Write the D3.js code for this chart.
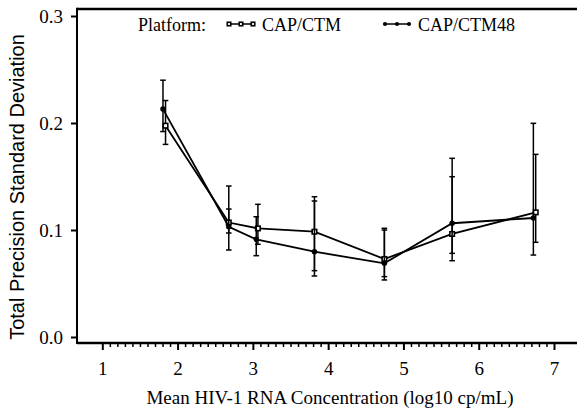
<!DOCTYPE html>
<html>
<head>
<meta charset="utf-8">
<script src="https://cdn.jsdelivr.net/npm/d3@7/dist/d3.min.js"></script>
<style>
  html, body { margin: 0; padding: 0; background: #fff; }
  svg { display: block; }
</style>
</head>
<body>
<svg id="chart" width="577" height="409"></svg>
<script>
// Precision data: total SD by mean concentration, with confidence limits
const seriesNames = ["CAP/CTM", "CAP/CTM48"];

const xCTM  = [1.84, 2.68, 3.067, 3.818, 4.747, 5.647, 6.757];
const sdCTM = [0.1975, 0.107, 0.1015, 0.0984, 0.0729, 0.0963, 0.1165];
const loCTM = [0.180, 0.0972, 0.0866, 0.062, 0.0564, 0.0713, 0.0885];
const hiCTM = [0.221, 0.1196, 0.124, 0.1311, 0.1016, 0.1498, 0.1707];

const xCTM48  = [1.806, 2.68, 3.045, 3.818, 4.747, 5.647, 6.726];
const sdCTM48 = [0.213, 0.103, 0.0913, 0.0797, 0.0689, 0.1063, 0.1112];
const loCTM48 = [0.192, 0.0813, 0.0760, 0.0570, 0.0533, 0.0782, 0.0766];
const hiCTM48 = [0.240, 0.1411, 0.1124, 0.1271, 0.1000, 0.1670, 0.1997];

const xTicks = [1, 2, 3, 4, 5, 6, 7];
const yTicks = [0.0, 0.1, 0.2, 0.3];

const serif = "'Liberation Serif', 'Times New Roman', serif";
const sans = "'Liberation Sans', Arial, sans-serif";

const svg = d3.select("#chart");

const frame = { left: 77, right: 577, top: 9, bottom: 343 };
const x = d3.scaleLinear().domain([1, 7]).range([102.3, 554]);
const y = d3.scaleLinear().domain([0, 0.3]).range([337, 16]);

// frame: top rule, left axis line, bottom axis line
svg.append("line")
  .attr("x1", frame.left).attr("x2", frame.right)
  .attr("y1", frame.top).attr("y2", frame.top)
  .attr("stroke", "#000").attr("stroke-width", 2.5);

// y axis
const yAxis = svg.append("g")
  .attr("transform", `translate(${frame.left},0)`)
  .call(d3.axisLeft(y).tickValues(yTicks).tickFormat(d3.format(".1f")).tickSize(6).tickPadding(8));
yAxis.select(".domain").remove();
yAxis.selectAll(".tick line").attr("stroke-width", 2);
yAxis.selectAll("text").attr("font-family", serif).attr("font-size", 19).attr("fill", "#000");
svg.append("line")
  .attr("x1", frame.left).attr("x2", frame.left)
  .attr("y1", frame.top - 1.2).attr("y2", frame.bottom + 1)
  .attr("stroke", "#000").attr("stroke-width", 2);

// x axis: major ticks with labels, minor ticks every 0.1
const minorTicks = d3.range(11, 70).filter(v => v % 10 !== 0).map(v => v / 10);
const xMinor = svg.append("g")
  .attr("transform", `translate(0,${frame.bottom})`)
  .call(d3.axisBottom(x).tickValues(minorTicks).tickFormat("").tickSize(4));
xMinor.select(".domain").remove();
xMinor.selectAll(".tick line").attr("stroke-width", 1.5);

const xAxis = svg.append("g")
  .attr("transform", `translate(0,${frame.bottom})`)
  .call(d3.axisBottom(x).tickValues(xTicks).tickFormat(d3.format("d")).tickSize(7).tickPadding(12));
xAxis.select(".domain").remove();
xAxis.selectAll(".tick line").attr("stroke-width", 2);
xAxis.selectAll("text").attr("font-family", serif).attr("font-size", 19).attr("fill", "#000");

svg.append("line")
  .attr("x1", frame.left).attr("x2", frame.right)
  .attr("y1", frame.bottom).attr("y2", frame.bottom)
  .attr("stroke", "#000").attr("stroke-width", 2.5);

// axis titles
svg.append("text")
  .attr("x", 330).attr("y", 404)
  .attr("text-anchor", "middle")
  .attr("font-family", serif).attr("font-size", 19)
  .text("Mean HIV-1 RNA Concentration (log10 cp/mL)");

svg.append("text")
  .attr("transform", "translate(24,187) rotate(-90)")
  .attr("text-anchor", "middle")
  .attr("font-family", sans).attr("font-size", 20)
  .text("Total Precision Standard Deviation");

// series
const series = [
  { name: seriesNames[0], xs: xCTM, sd: sdCTM, lo: loCTM, hi: hiCTM, shape: "square" },
  { name: seriesNames[1], xs: xCTM48, sd: sdCTM48, lo: loCTM48, hi: hiCTM48, shape: "circle" }
];

const line = d3.line().x(d => x(d.x)).y(d => y(d.v));

function drawMarker(g, shape, cx, cy, size) {
  if (shape === "square") {
    g.append("rect")
      .attr("x", cx - size / 2).attr("y", cy - size / 2)
      .attr("width", size).attr("height", size)
      .attr("fill", "#fff").attr("stroke", "#000").attr("stroke-width", 1.6);
  } else {
    g.append("circle")
      .attr("cx", cx).attr("cy", cy).attr("r", size / 2)
      .attr("fill", "#000");
  }
}

series.forEach(s => {
  const pts = s.xs.map((xv, i) => ({ x: xv, v: s.sd[i], lo: s.lo[i], hi: s.hi[i] }));
  const g = svg.append("g").attr("class", "series");

  // error bars
  pts.forEach(p => {
    const cx = x(p.x);
    g.append("line")
      .attr("x1", cx).attr("x2", cx)
      .attr("y1", y(p.hi)).attr("y2", y(p.lo))
      .attr("stroke", "#000").attr("stroke-width", 1.5);
    [p.hi, p.lo].forEach(v => {
      g.append("line")
        .attr("x1", cx - 2.8).attr("x2", cx + 2.8)
        .attr("y1", y(v)).attr("y2", y(v))
        .attr("stroke", "#000").attr("stroke-width", 1.5);
    });
  });

  g.append("path")
    .datum(pts)
    .attr("d", line)
    .attr("fill", "none")
    .attr("stroke", "#000").attr("stroke-width", 1.8);

  pts.forEach(p => drawMarker(g, s.shape, x(p.x), y(p.v), s.shape === "square" ? 4.5 : 5.5));
});

// legend
const legend = svg.append("g").attr("font-family", serif).attr("font-size", 18);
legend.append("text").attr("x", 138).attr("y", 31).text("Platform:");

const legendItems = [
  { s: series[0], x0: 229, tx: 262 },
  { s: series[1], x0: 385, tx: 418 }
];
legendItems.forEach(item => {
  const ly = 24;
  legend.append("line")
    .attr("x1", item.x0).attr("x2", item.x0 + 24)
    .attr("y1", ly).attr("y2", ly)
    .attr("stroke", "#000").attr("stroke-width", 1.5);
  [0, 12, 24].forEach(dx => drawMarker(legend, item.s.shape, item.x0 + dx, ly, item.s.shape === "square" ? 3.5 : 4.2));
  legend.append("text").attr("x", item.tx).attr("y", 31).text(item.s.name);
});
</script>
</body>
</html>
